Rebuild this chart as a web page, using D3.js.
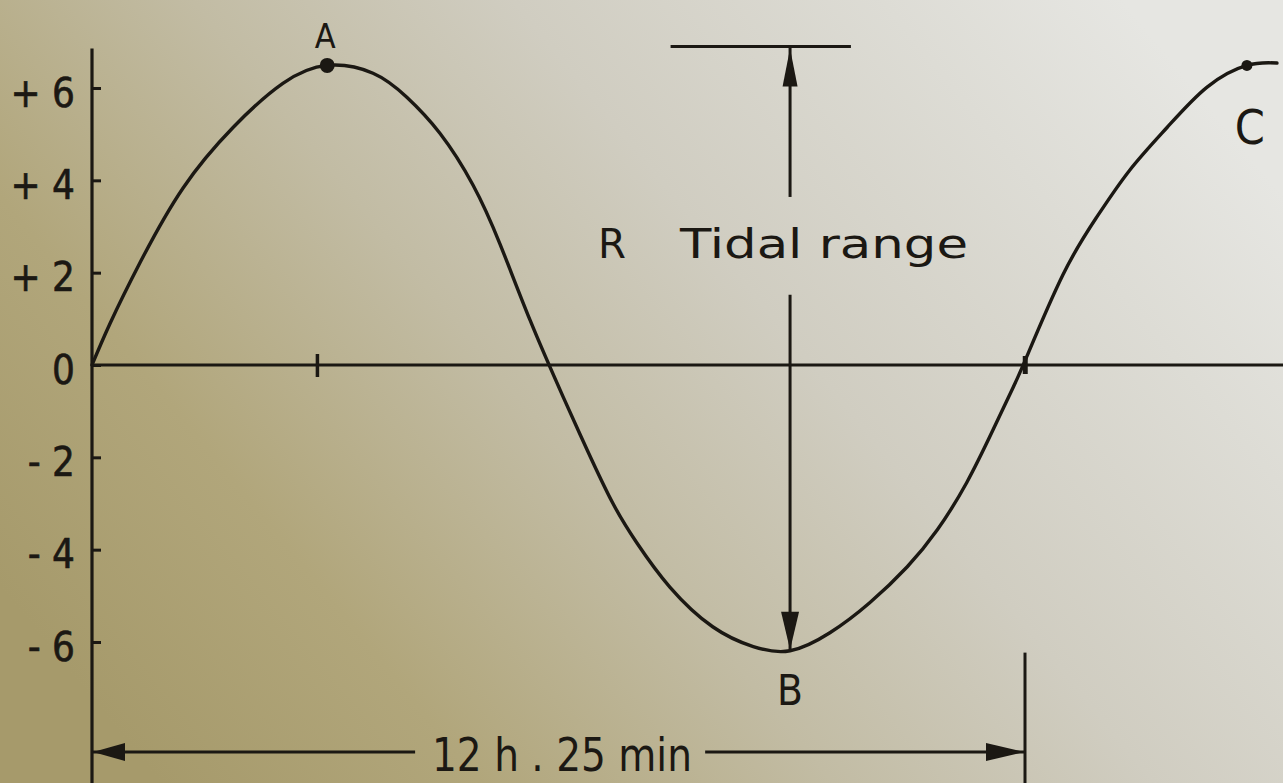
<!DOCTYPE html>
<html><head><meta charset="utf-8">
<script src="https://cdn.jsdelivr.net/npm/d3@7"></script>
<style>html,body{margin:0;padding:0;overflow:hidden;background:#c8c2aa}</style>
</head><body><svg id="c" width="1283" height="783"></svg>
<script>
// ---- data ----
const hours   = [0,0.24,0.64,1.21,1.88,2.54,3.13,3.74,4.19,4.63,5.07,5.43,5.83,6.27,6.59,6.93,7.25,7.69,8.26,8.80,9.29,9.82,10.35,10.85,11.25,11.64,11.99,12.26,12.44,12.92,13.37,13.81,14.31,14.84,15.37,15.77];
const heights = [0,0.90,2.22,3.83,5.15,6.10,6.49,6.32,5.80,5.02,3.90,2.62,0.97,-0.69,-1.84,-2.99,-3.85,-4.81,-5.67,-6.10,-6.19,-5.80,-5.15,-4.37,-3.57,-2.55,-1.41,-0.48,0.18,1.95,3.20,4.22,5.15,6.02,6.49,6.54];
const yTicks = [6,4,2,0,-2,-4,-6];
const yTickLabels = ["+ 6","+ 4","+ 2","0","- 2","- 4","- 6"];
const pointLabels = ["A","B","C"];
const pointHours = [3.13, 9.29, 15.37];
const pointHeights = [6.49, -6.19, 6.49];
const xMarks = [3, 12.42];
const periodHours = 12 + 25/60;
const periodLabel = "12 h . 25 min";
const rangeLetter = "R";
const rangeLabel = "Tidal range";
const rangeTop = 6.9;

const W = 1283, H = 783;
const svg = d3.select("#c");
const ink = "#1b1813";

// background paper
const defs = svg.append("defs");
const g1 = defs.append("linearGradient").attr("id","paper").attr("x1",0).attr("y1",0.75).attr("x2",1).attr("y2",0.25);
[[0,"#a69a6b"],[0.2,"#b1a67b"],[0.42,"#c2bca4"],[0.62,"#d0cdc1"],[0.85,"#dddcd5"],[1,"#e6e6e2"]].forEach(s=>g1.append("stop").attr("offset",s[0]).attr("stop-color",s[1]));
svg.append("rect").attr("width",W).attr("height",H).attr("fill","url(#paper)");

// scales
const x = d3.scaleLinear().domain([0, periodHours]).range([92, 1025]);
const y = d3.scaleLinear().domain([-6, 6]).range([642, 88]);

const font = "'DejaVu Sans Condensed','DejaVu Sans',sans-serif";
const fontW = "'DejaVu Sans',sans-serif";

// y axis
const yAxis = d3.axisLeft(y).tickValues(yTicks).tickFormat((d,i)=>yTickLabels[i])
  .tickSizeInner(-9).tickSizeOuter(0).tickPadding(17);
const ga = svg.append("g").attr("transform",`translate(${x(0)},0)`).call(yAxis);
ga.select(".domain").remove();
ga.selectAll(".tick line").attr("stroke",ink).attr("stroke-width",3);
ga.selectAll(".tick text").attr("fill",ink).attr("font-family",font).attr("font-size",40).attr("dy","0.45em")
  .attr("stroke",ink).attr("stroke-width",0.6);
svg.append("line").attr("x1",x(0)).attr("x2",x(0)).attr("y1",y(rangeTop)+2).attr("y2",H)
  .attr("stroke",ink).attr("stroke-width",3.2);

// zero line
svg.append("line").attr("x1",x(0)).attr("x2",W).attr("y1",y(0)).attr("y2",y(0))
  .attr("stroke",ink).attr("stroke-width",3.2);
svg.selectAll(".xm").data(xMarks).join("line").attr("class","xm")
  .attr("x1",d=>x(d)).attr("x2",d=>x(d)).attr("y1",(d,i)=>y(0)-(i?9:11)).attr("y2",(d,i)=>y(0)+(i?9:12))
  .attr("stroke",ink).attr("stroke-width",(d,i)=>i?5:3.5);

// curve
const pts = hours.map((h,i)=>[h, heights[i]]);
svg.append("path").datum(pts)
  .attr("d", d3.line().x(d=>x(d[0])).y(d=>y(d[1])).curve(d3.curveNatural))
  .attr("fill","none").attr("stroke",ink).attr("stroke-width",3.4).attr("stroke-linecap","round");

// A and C dots
svg.selectAll(".dot").data([0,2]).join("circle").attr("class","dot")
  .attr("cx",i=>x(pointHours[i])).attr("cy",i=>y(pointHeights[i]))
  .attr("r",i=>i===0?7.5:5.5).attr("fill",ink);

// point labels
const lblOff = [[-2,-17],[0,54],[3,79]];
const lblSize = [34,42,48];
svg.selectAll(".pl").data(pointLabels).join("text").attr("class","pl")
  .attr("x",(d,i)=>x(pointHours[i])+lblOff[i][0]).attr("y",(d,i)=>y(pointHeights[i])+lblOff[i][1])
  .attr("text-anchor","middle").attr("font-family",font).attr("font-size",(d,i)=>lblSize[i])
  .attr("fill",ink).text(d=>d);

// tidal range arrow
const xb = x(pointHours[1]);
svg.append("line").attr("x1",x(7.7)).attr("x2",x(10.1)).attr("y1",y(rangeTop)).attr("y2",y(rangeTop))
  .attr("stroke",ink).attr("stroke-width",3);
svg.append("line").attr("x1",xb).attr("x2",xb).attr("y1",y(rangeTop)).attr("y2",y(3.64))
  .attr("stroke",ink).attr("stroke-width",3);
svg.append("line").attr("x1",xb).attr("x2",xb).attr("y1",y(1.52)).attr("y2",y(pointHeights[1]))
  .attr("stroke",ink).attr("stroke-width",3);
function head(tx,ty,dx,dy,len,hw){
  const bx=tx-dx*len, by=ty-dy*len, px=-dy*hw, py=dx*hw;
  return `M${tx},${ty}L${bx+px},${by+py}L${bx-px},${by-py}Z`;
}
svg.append("path").attr("d",head(xb,y(rangeTop)+2,0,-1,38,7.5)).attr("fill",ink);
svg.append("path").attr("d",head(xb,y(pointHeights[1])-1,0,1,38,9)).attr("fill",ink);
const rt = svg.append("text").attr("y",258).attr("font-family",fontW).attr("font-size",41).attr("fill",ink);
rt.append("tspan").attr("x",598).attr("textLength",28).attr("lengthAdjust","spacingAndGlyphs").text(rangeLetter);
rt.append("tspan").attr("x",680).attr("textLength",288).attr("lengthAdjust","spacingAndGlyphs").text(rangeLabel);

// period dimension
const yd = 752;
svg.append("line").attr("x1",x(0)).attr("x2",x(4.3)).attr("y1",yd).attr("y2",yd).attr("stroke",ink).attr("stroke-width",3);
svg.append("line").attr("x1",x(8.16)).attr("x2",x(periodHours)).attr("y1",yd).attr("y2",yd).attr("stroke",ink).attr("stroke-width",3);
svg.append("path").attr("d",head(x(0)+1,yd,-1,0,32,9)).attr("fill",ink);
svg.append("path").attr("d",head(x(periodHours)-1,yd,1,0,38,9)).attr("fill",ink);
svg.append("line").attr("x1",x(periodHours)).attr("x2",x(periodHours)).attr("y1",y(-6.23)).attr("y2",H)
  .attr("stroke",ink).attr("stroke-width",3);
svg.append("text").attr("x",432).attr("y",771).attr("font-family",font).attr("font-size",46)
  .attr("fill",ink).attr("textLength",260).attr("lengthAdjust","spacingAndGlyphs")
  .attr("xml:space","preserve").style("white-space","pre").text(periodLabel);
</script></body></html>
